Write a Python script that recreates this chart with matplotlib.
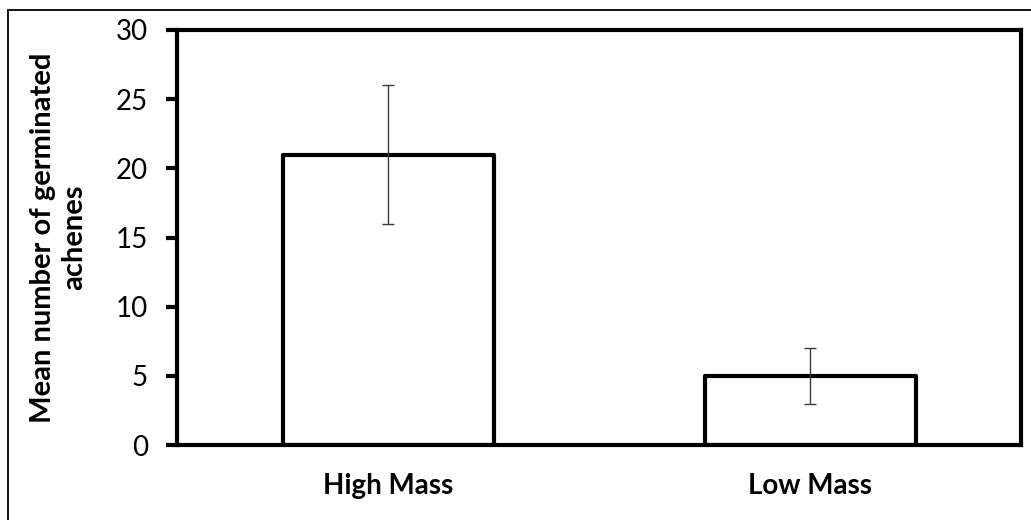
import matplotlib
matplotlib.use("Agg")
import matplotlib.pyplot as plt
from matplotlib.patches import Rectangle

categories = ["High Mass", "Low Mass"]
means = [21, 5]
errors = [5, 2]
yticks = [0, 5, 10, 15, 20, 25, 30]
ylabel = "Mean number of germinated\nachenes"

W, H = 1031, 520
fig = plt.figure(figsize=(W / 100, H / 100), dpi=100)
fig.patch.set_facecolor("white")

# outer frame
fig.add_artist(Rectangle((8 / W, -0.05), 2.0, 1.05 - 10 / H,
                         transform=fig.transFigure, fill=False,
                         edgecolor="black", linewidth=1.3))

left, right, top, bottom = 177, 1021, 30, 445
ax = fig.add_axes([left / W, 1 - bottom / H, (right - left) / W, (bottom - top) / H])

FONT = "Lato"
x = list(range(len(categories)))
ax.bar(x, means, width=0.5, color="white", edgecolor="black", linewidth=3.0,
       joinstyle="round", zorder=2)
ax.errorbar(x, means, yerr=errors, fmt="none", ecolor="#3a3a3a", elinewidth=1.0,
            capsize=4.5, capthick=1.0, zorder=3)

ax.set_xlim(-0.5, 1.5)
ax.set_ylim(0, 30)
ax.set_yticks(yticks)
ax.set_yticklabels([str(t) for t in yticks], fontsize=20, fontfamily=FONT)
ax.set_xticks(x)
ax.set_xticklabels(categories, fontsize=20, fontfamily=FONT, fontweight="bold")
ax.tick_params(axis="y", direction="out", length=8, width=3, pad=13)
ax.tick_params(axis="x", length=0, pad=20)

for s in ax.spines.values():
    s.set_linewidth(3.0)
    s.set_color("black")

ax.set_ylabel(ylabel, fontsize=21, fontfamily=FONT, fontweight="bold",
              linespacing=1.25)
ax.yaxis.set_label_coords(-0.106, 0.5)

fig.savefig("out.png", dpi=100, facecolor="white")
